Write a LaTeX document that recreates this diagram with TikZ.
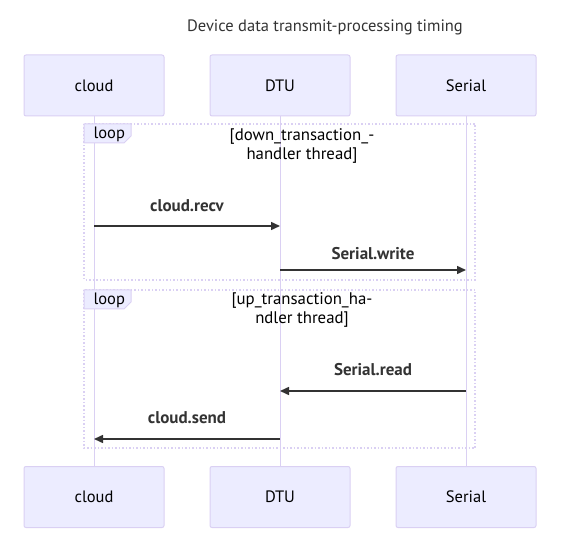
\documentclass[tikz,border=0pt]{standalone}
\usepackage{fontspec}
\setmainfont{PT Sans}
\usetikzlibrary{arrows.meta}
\definecolor{actfill}{HTML}{ECECFF}
\definecolor{actline}{HTML}{DAD0F3}
\definecolor{ink}{HTML}{333333}
\tikzset{
  x=1pt,y=-1pt,
  actor/.style={draw=actline,fill=actfill,rounded corners=2pt,line width=1pt,minimum width=140pt,minimum height=61pt,inner sep=0pt,font=\fontsize{16.5}{18}\selectfont,text=black},
  lifeline/.style={draw=actline,line width=1pt},
  loopframe/.style={draw=actline,line width=1.5pt,dotted},
  msg/.style={draw=ink,line width=1.5pt,-{Triangle[length=9pt,width=8pt]}},
  msglabel/.style={font=\fontsize{17}{19}\selectfont\bfseries,text=ink},
  guard/.style={font=\fontsize{16.8}{19}\selectfont,text=black,align=center},
}
\begin{document}
\begin{tikzpicture}
\useasboundingbox (0,0) rectangle (584,545);
\node[font=\fontsize{16.5}{18}\selectfont,text=ink] (title) at (325,27) {Device data transmit-processing timing};
% actors
\node[actor] (cloudT) at (94,85.5) {cloud};
\node[actor] (dtuT) at (280,85.5) {DTU};
\node[actor] (serT) at (466,85.5) {Serial};
\node[actor] (cloudB) at (94,497) {cloud};
\node[actor] (dtuB) at (280,497) {DTU};
\node[actor] (serB) at (466,497) {Serial};
% lifelines
\draw[lifeline] (cloudT) -- (cloudB);
\draw[lifeline] (dtuT) -- (dtuB);
\draw[lifeline] (serT) -- (serB);
% loop 1
\draw[loopframe] (84,124) rectangle (475,280);
\filldraw[draw=actline,fill=actfill,line width=1pt] (84,124) -- (131,124) -- (131,136) -- (124,143) -- (84,143) -- cycle;
\node[font=\fontsize{16.5}{18}\selectfont,text=black,anchor=west] (loop1) at (90,134.5) {loop};
\node[guard] (g1) at (302,145.5) {[down\_transaction\_-\\handler thread]};
% loop 2
\draw[loopframe] (84,290) rectangle (475,448);
\filldraw[draw=actline,fill=actfill,line width=1pt] (84,290) -- (131,290) -- (131,302) -- (124,309) -- (84,309) -- cycle;
\node[font=\fontsize{16.5}{18}\selectfont,text=black,anchor=west] (loop2) at (90,300.5) {loop};
\node[guard] (g2) at (302,310) {[up\_transaction\_ha-\\ndler thread]};
% messages
\coordinate (c1) at (94,226); \coordinate (d1) at (280,226);
\coordinate (d2) at (280,270); \coordinate (s2) at (466,270);
\coordinate (s3) at (466,391); \coordinate (d3) at (280,391);
\coordinate (d4) at (280,439); \coordinate (c4) at (94,439);
\draw[msg] (c1) -- (d1);
\draw[msg] (d2) -- (s2);
\draw[msg] (s3) -- (d3);
\draw[msg] (d4) -- (c4);
\node[msglabel] (l1) at (187,206) {cloud.recv};
\node[msglabel] (l2) at (373,254) {Serial.write};
\node[msglabel] (l3) at (373,370) {Serial.read};
\node[msglabel] (l4) at (187,418) {cloud.send};
\end{tikzpicture}
\end{document}
